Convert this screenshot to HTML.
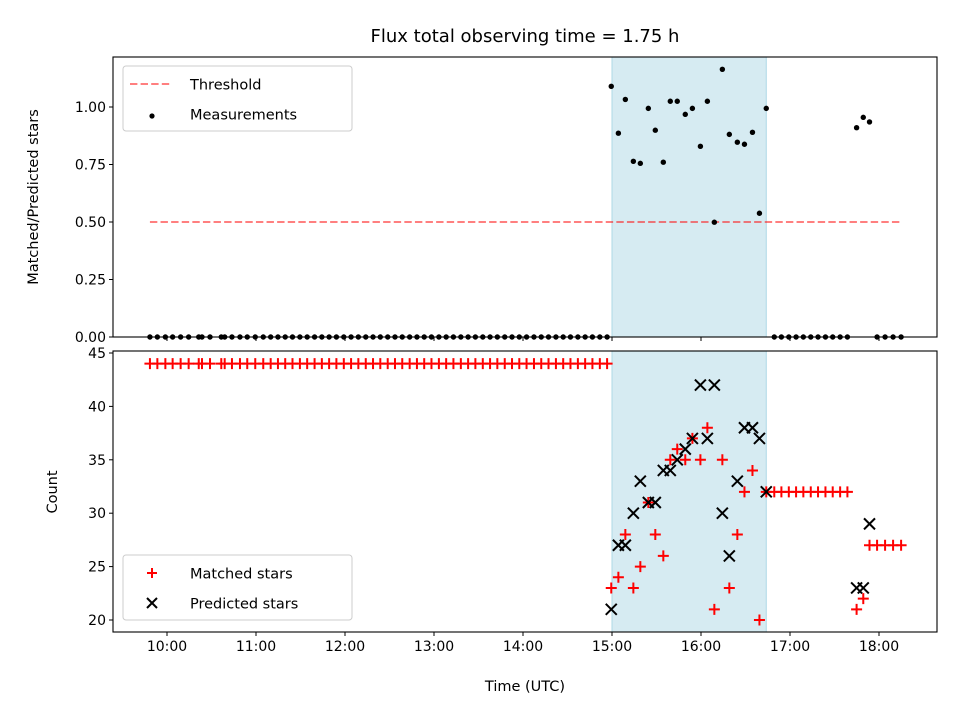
<!DOCTYPE html>
<html><head><meta charset="utf-8">
<style>
body{margin:0;background:#fff;}
svg{display:block;font-family:"DejaVu Sans","Liberation Sans",sans-serif;}
</style></head>
<body>
<svg id="chart" width="960" height="720" viewBox="0 0 960 720">
  <text x="525" y="42" font-size="18" text-anchor="middle">Flux total observing time = 1.75 h</text>
  <g id="topPanel"></g>
  <g id="botPanel"></g>
  <text transform="translate(38,197) rotate(-90)" font-size="14.5" text-anchor="middle">Matched/Predicted stars</text>
  <text transform="translate(57,492) rotate(-90)" font-size="14.5" text-anchor="middle">Count</text>
  <text x="525" y="691" font-size="14.5" text-anchor="middle">Time (UTC)</text>
</svg>
<script>
// time in minutes since 10:00 UTC
const times = [-11.5,-6.5,-1.1,3.8,9.2,14.6,21.4,23.6,29,36.6,38.9,43.8,49.2,54.1,59.5,64.9,69.9,74.8,
79.7,84.6,89.6,94.5,99.5,104.4,109.3,114.2,119.2,124.1,129.0,134.0,138.9,143.8,148.8,153.7,158.6,163.6,168.5,173.4,178.3,183.3,188.2,193.1,198.1,203.0,207.9,212.9,217.8,222.7,227.7,232.6,237.5,242.4,247.4,252.3,257.2,262.2,267.1,272.0,277.0,281.9,286.8,291.8,296.7,
299.5,304.3,309.0,314.4,319.1,324.5,329.2,334.6,339.3,344.0,349.4,354.2,359.6,364.3,369.0,374.4,379.1,384.5,389.3,394.7,399.4,404.0,
409.4,414.2,419.2,424.1,429.0,434.0,438.9,443.9,448.8,453.8,458.7,
464.9,469.4,473.6,478.7,484.1,489.5,494.9];
const nLeft = 63;
const matchedIn = [23,24,28,23,25,31,28,26,35,36,35,37,35,38,21,35,23,28,32,34,20,32];
const predictedIn = [21,27,27,30,33,31,31,34,34,35,36,37,42,37,42,30,26,33,38,38,37,32];
const ratioIn = [1.09,0.886,1.033,0.764,0.755,0.994,0.899,0.76,1.025,1.025,0.968,0.994,0.829,1.025,0.499,1.164,0.881,0.847,0.838,0.89,0.538,0.994];
const matchedPost = [32,32,32,32,32,32,32,32,32,32,32];
const matchedLate = [21,22,27,27,27,27,27];
const predictedLate = [23,23,29,null,null,null,null];
const ratioLate = [0.91,0.955,0.935,0,0,0,0];
const threshold = 0.5;
const shadeStart = 300, shadeEnd = 404;
const xTicks = [0,60,120,180,240,300,360,420,480];
const xTickLabels = ["10:00","11:00","12:00","13:00","14:00","15:00","16:00","17:00","18:00"];
const topTicks = [0,0.25,0.5,0.75,1.0];
const topTickLabels = ["0.00","0.25","0.50","0.75","1.00"];
const botTicks = [20,25,30,35,40,45];

const matched = [], predicted = [], ratio = [];
for (let i=0;i<nLeft;i++){matched.push(44);predicted.push(null);ratio.push(0);}
matchedIn.forEach((m,i)=>{matched.push(m);predicted.push(predictedIn[i]);ratio.push(ratioIn[i]);});
matchedPost.forEach(m=>{matched.push(m);predicted.push(null);ratio.push(0);});
matchedLate.forEach((m,i)=>{matched.push(m);predicted.push(predictedLate[i]);ratio.push(ratioLate[i]);});

const NS="http://www.w3.org/2000/svg";
function mk(tag,attrs,parent){const e=document.createElementNS(NS,tag);for(const k in attrs)e.setAttribute(k,attrs[k]);parent.appendChild(e);return e;}
const X0=113,X1=937, xmin=-36.4, xmax=519.1;
const sx=t=>X0+(t-xmin)/(xmax-xmin)*(X1-X0);
const T0=57,T1=337, tymin=0, tymax=1.2174;
const syT=v=>T1-(v-tymin)/(tymax-tymin)*(T1-T0);
const B0=351,B1=632, bymin=18.876, bymax=45.187;
const syB=v=>B1-(v-bymin)/(bymax-bymin)*(B1-B0);

const topG=document.getElementById('topPanel'), botG=document.getElementById('botPanel');
let r=mk('rect',{x:sx(shadeStart),y:T0,width:sx(shadeEnd)-sx(shadeStart),height:T1-T0,fill:'#add8e6','fill-opacity':0.5,stroke:'#add8e6'},topG);


r=mk('rect',{x:sx(shadeStart),y:B0,width:sx(shadeEnd)-sx(shadeStart),height:B1-B0,fill:'#add8e6','fill-opacity':0.5,stroke:'#add8e6'},botG);


let l=mk('line',{x1:sx(times[0]),x2:sx(times[times.length-1]),y1:syT(threshold),y2:syT(threshold),stroke:'#ff0000','stroke-opacity':0.5,'stroke-width':2,'stroke-dasharray':'7.4,3.2'},topG);


times.forEach((t,i)=>{
  const c=mk('circle',{cx:sx(t),cy:syT(ratio[i]),r:2.7,fill:'#000'},topG);
  
  
});
times.forEach((t,i)=>{
  const x=sx(t),y=syB(matched[i]),s=5.5;
  const p=mk('path',{d:`M${x-s},${y}H${x+s}M${x},${y-s}V${y+s}`,stroke:'#ff0000','stroke-width':2,fill:'none'},botG);
  
  
});
times.forEach((t,i)=>{
  if(predicted[i]==null)return;
  const x=sx(t),y=syB(predicted[i]),s=5.5;
  const p=mk('path',{d:`M${x-s},${y-s}L${x+s},${y+s}M${x-s},${y+s}L${x+s},${y-s}`,stroke:'#000','stroke-width':2,fill:'none'},botG);
  
  
});
[[T0,T1,topG],[B0,B1,botG]].forEach(([a,b,g])=>{
  const f=mk('rect',{x:X0,y:a,width:X1-X0,height:b-a,fill:'none',stroke:'#000','stroke-width':1.1},g);
  
  
});
topTicks.forEach((v,i)=>{
  const y=syT(v);
  mk('line',{x1:X0-4,x2:X0,y1:y,y2:y,stroke:'#000'},topG);
  const tx=mk('text',{x:X0-7,y:y+5,'font-size':14,'text-anchor':'end'},topG);tx.textContent=topTickLabels[i];
  
  
});
botTicks.forEach(v=>{
  const y=syB(v);
  mk('line',{x1:X0-4,x2:X0,y1:y,y2:y,stroke:'#000'},botG);
  const tx=mk('text',{x:X0-7,y:y+5,'font-size':14,'text-anchor':'end'},botG);tx.textContent=v;
  
  
});
xTicks.forEach((t,i)=>{
  const x=sx(t);
  mk('line',{x1:x,x2:x,y1:T1,y2:T1+4,stroke:'#000'},topG);
  mk('line',{x1:x,x2:x,y1:B1,y2:B1+4,stroke:'#000'},botG);
  const tx=mk('text',{x:x,y:B1+19,'font-size':14,'text-anchor':'middle'},botG);tx.textContent=xTickLabels[i];
  
  
});
function legend(g,y0,name,items){
  const lg=mk('g',{},g);
  
  
  mk('rect',{x:123,y:y0,width:229,height:65,rx:3,fill:'#fff','fill-opacity':0.8,stroke:'#ccc'},lg);
  items.forEach((it,i)=>{
    const cy=y0+18+i*30;
    it.draw(lg,152,cy);
    const tx=mk('text',{x:190,y:cy+5.5,'font-size':14.5},lg);tx.textContent=it.label;
  });
}
legend(topG,66,'top-legend',[
  {label:'Threshold',draw:(g,x,y)=>mk('line',{x1:x-22,x2:x+20,y1:y,y2:y,stroke:'#ff0000','stroke-opacity':0.5,'stroke-width':2,'stroke-dasharray':'7.4,3.2'},g)},
  {label:'Measurements',draw:(g,x,y)=>mk('circle',{cx:x,cy:y+2,r:2.6,fill:'#000'},g)}
]);
legend(botG,555,'bottom-legend',[
  {label:'Matched stars',draw:(g,x,y)=>mk('path',{d:`M${x-5},${y}H${x+5}M${x},${y-5}V${y+5}`,stroke:'#ff0000','stroke-width':2},g)},
  {label:'Predicted stars',draw:(g,x,y)=>mk('path',{d:`M${x-5},${y-5}L${x+5},${y+5}M${x-5},${y+5}L${x+5},${y-5}`,stroke:'#000','stroke-width':2},g)}
]);
</script>
</body></html>
